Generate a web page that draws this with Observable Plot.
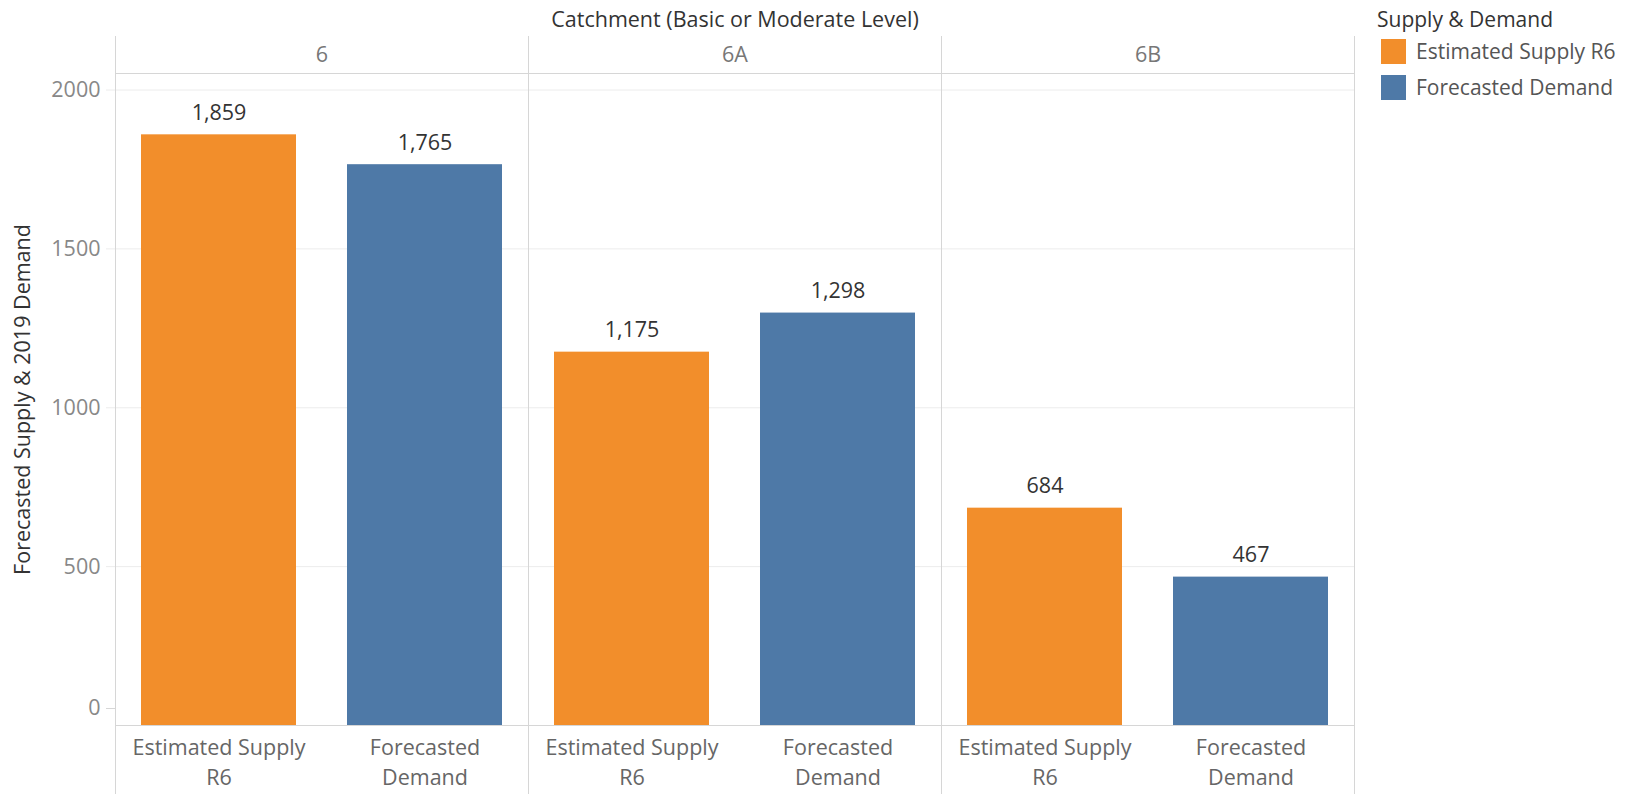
<!DOCTYPE html>
<html>
<head>
<meta charset="utf-8">
<script src="https://cdn.jsdelivr.net/npm/d3@7"></script>
<script src="https://cdn.jsdelivr.net/npm/@observablehq/plot@0.6"></script>
<style>
  html, body { margin: 0; padding: 0; background: #fff; }
  body { font-family: "Open Sans", sans-serif; }
  #wrap { position: relative; width: 1644px; height: 794px; }
  #legend { position: absolute; left: 1377px; top: 5px; color: #333; font-size: 21px; }
  #legend .title { margin-bottom: 0px; line-height: 28px; }
  #legend .item { display: flex; align-items: center; height: 36px; color: #555; }
  #legend .sw { width: 25px; height: 25px; margin: 0 10px 0 4px; }
</style>
</head>
<body>
<div id="wrap">
  <div id="chart"></div>
  <div id="legend"></div>
</div>
<script>
const catchments = ["6", "6A", "6B"];
const series = ["Estimated Supply R6", "Forecasted Demand"];
const supply = [1859, 1175, 684];
const demand = [1765, 1298, 467];
const colors = ["#F28E2B", "#4E79A7"];
const yTicks = [0, 500, 1000, 1500, 2000];
const xTickLabels = ["Estimated Supply\nR6", "Forecasted\nDemand"];
const fxTitle = "Catchment (Basic or Moderate Level)";
const yTitle = "Forecasted Supply & 2019 Demand";
const legendTitle = "Supply & Demand";

const data = [];
catchments.forEach((c, i) => {
  data.push({catchment: c, series: series[0], value: supply[i]});
  data.push({catchment: c, series: series[1], value: demand[i]});
});

const fmt = d3.format(",");
const line = "#d6d6d6";
const fs = 21.5;

const chart = Plot.plot({
  width: 1644,
  height: 794,
  marginLeft: 115,
  marginRight: 290,
  marginTop: 73,
  marginBottom: 69,
  style: {fontFamily: "Open Sans, sans-serif", fontSize: fs + "px", background: "#fff"},
  fx: {domain: catchments, padding: 0},
  x: {domain: series, paddingInner: 0.25, paddingOuter: 0.125},
  y: {domain: [0, 2052]},
  color: {domain: series, range: colors},
  marks: [
    Plot.gridY(yTicks.slice(1), {stroke: "#ececec", strokeOpacity: 1}),
    Plot.barY(data, {fx: "catchment", x: "series", y: "value", fill: "series"}),
    Plot.text(data, {fx: "catchment", x: "series", y: "value", text: d => fmt(d.value),
      dy: -15, lineAnchor: "bottom", fill: "#333", fontSize: fs}),
    Plot.ruleY([0], {stroke: line}),
    Plot.frame({anchor: "top", stroke: line}),
    Plot.frame({anchor: "left", stroke: line, insetTop: -37, insetBottom: -69}),
    Plot.frame({anchor: "right", stroke: line, insetTop: -37, insetBottom: -69}),
    Plot.axisY(yTicks.slice(1), {tickSize: 9, stroke: "#ececec", tickPadding: 6, fill: "#888",
      fontSize: fs, tickFormat: d3.format("d"), label: null}),
    Plot.axisY([0], {tickSize: 9, stroke: line, tickPadding: 6, fill: "#888", fontSize: fs,
      tickFormat: d3.format("d"), dy: -17, label: null}),
    Plot.axisY([], {tickSize: 0, fill: "#333", fontSize: fs,
      label: yTitle, labelAnchor: "center", labelArrow: "none", labelOffset: 101}),
    Plot.axisX({tickSize: 0, tickPadding: 8, fill: "#666", fontSize: fs, lineHeight: 1.4,
      tickFormat: d => xTickLabels[series.indexOf(d)], label: null}),
    Plot.axisFx({anchor: "top", tickSize: 0, tickPadding: 12, fill: "#777", fontSize: fs,
      label: null}),
    Plot.axisFx([], {anchor: "top", tickSize: 0, fill: "#333", fontSize: fs,
      label: fxTitle, labelAnchor: "center", labelOffset: 62})
  ]
});
document.getElementById("chart").appendChild(chart);

const legend = document.getElementById("legend");
const t = document.createElement("div");
t.className = "title";
t.textContent = legendTitle;
legend.appendChild(t);
series.forEach((s, i) => {
  const it = document.createElement("div");
  it.className = "item";
  const sw = document.createElement("div");
  sw.className = "sw";
  sw.style.background = colors[i];
  const lb = document.createElement("span");
  lb.textContent = s;
  it.appendChild(sw);
  it.appendChild(lb);
  legend.appendChild(it);
});
</script>
</body>
</html>
